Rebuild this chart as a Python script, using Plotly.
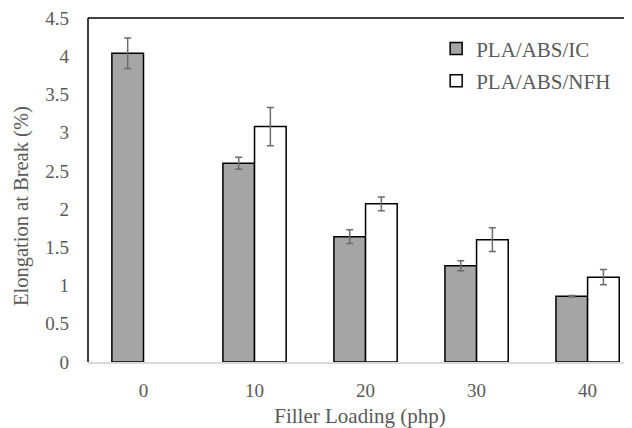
import plotly.graph_objects as go

categories = ["0", "10", "20", "30", "40"]
ic_values = [4.04, 2.60, 1.64, 1.26, 0.86]
ic_errors = [0.20, 0.08, 0.09, 0.065, 0.01]
nfh_values = [None, 3.08, 2.07, 1.60, 1.11]
nfh_errors = [None, 0.25, 0.09, 0.155, 0.10]

xpos = list(range(len(categories)))
font_family = "Liberation Serif, Times New Roman, serif"
text_color = "#595959"
err_color = "#6b6b6b"

fig = go.Figure()
fig.add_trace(go.Bar(
    x=xpos, y=ic_values, name="PLA/ABS/IC", legendgroup="ic",
    marker=dict(color="#a5a5a5", line=dict(color="black", width=1.5)),
    error_y=dict(type="data", array=ic_errors, visible=True,
                 color=err_color, thickness=1.5, width=3.5),
))
fig.add_trace(go.Bar(
    x=xpos, y=nfh_values, name="PLA/ABS/NFH", legendgroup="nfh",
    marker=dict(color="white", line=dict(color="black", width=1.5)),
    error_y=dict(type="data", array=nfh_errors, visible=True,
                 color=err_color, thickness=1.5, width=3.5),
))

fig.update_layout(
    width=624, height=420,
    margin=dict(l=80, r=0, t=8, b=66),
    paper_bgcolor="white", plot_bgcolor="white",
    barmode="group", bargap=0.43, bargroupgap=0,
    font=dict(family=font_family, size=19, color=text_color),
    legend=dict(x=0.64, y=0.97, xanchor="left", yanchor="top",
                traceorder="grouped", tracegroupgap=2,
                bgcolor="rgba(0,0,0,0)", font=dict(size=21, color=text_color)),
    xaxis=dict(
        range=[-0.5, 4.40], tickmode="array", tickvals=xpos, ticktext=categories,
        showgrid=False, zeroline=False, showline=True, linecolor="#d9d9d9",
        linewidth=1.5, ticks="", ticklabelstandoff=10,
        tickfont=dict(size=19, color=text_color),
        title=dict(text="Filler Loading (php)", standoff=9,
                   font=dict(size=21, color=text_color)),
    ),
    yaxis=dict(
        range=[0, 4.5], dtick=0.5, showgrid=False, zeroline=False,
        showline=False, ticks="", ticklabelstandoff=18,
        ticklabeloverflow="allow",
        tickfont=dict(size=19, color=text_color),
    ),
    annotations=[
        dict(text="Elongation at Break (%)", xref="paper", yref="paper",
             x=-0.121, y=0.454, xanchor="center", yanchor="middle",
             textangle=-90, showarrow=False,
             font=dict(size=20.5, color=text_color)),
    ],
    shapes=[
        dict(type="line", xref="paper", yref="paper", x0=0, x1=1.05, y0=1, y1=1,
             line=dict(color="black", width=1.5)),
        dict(type="line", xref="paper", yref="paper", x0=0, x1=0, y0=0, y1=1,
             line=dict(color="black", width=1.5)),
    ],
)

fig.write_html("out.html")
